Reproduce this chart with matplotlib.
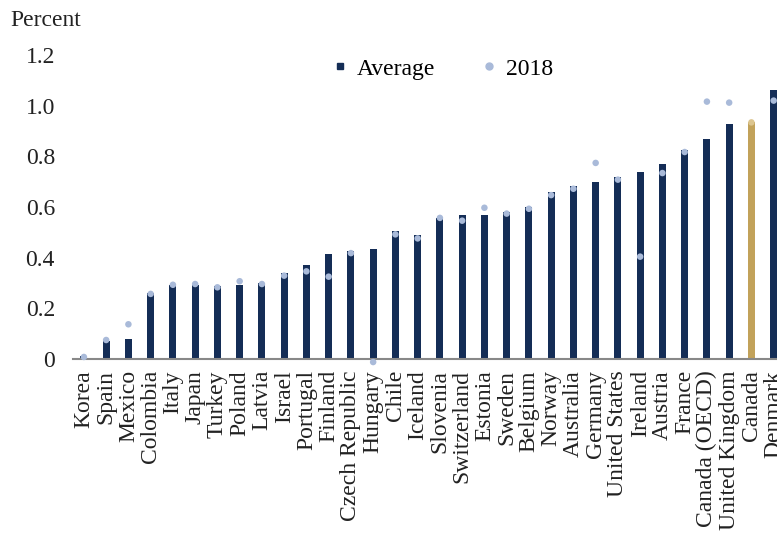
import matplotlib.pyplot as plt
from matplotlib.lines import Line2D

countries = ["Korea", "Spain", "Mexico", "Colombia", "Italy", "Japan", "Turkey",
             "Poland", "Latvia", "Israel", "Portugal", "Finland", "Czech Republic",
             "Hungary", "Chile", "Iceland", "Slovenia", "Switzerland", "Estonia",
             "Sweden", "Belgium", "Norway", "Australia", "Germany", "United States",
             "Ireland", "Austria", "France", "Canada (OECD)", "United Kingdom",
             "Canada", "Denmark"]
average = [0.01, 0.072, 0.078, 0.259, 0.292, 0.292, 0.29, 0.292, 0.301, 0.338,
           0.37, 0.416, 0.425, 0.436, 0.505, 0.488, 0.558, 0.567, 0.567, 0.58,
           0.601, 0.658, 0.682, 0.70, 0.718, 0.737, 0.77, 0.825, 0.867, 0.927,
           0.934, 1.061]
y2018 = [0.008, 0.075, 0.137, 0.257, 0.293, 0.296, 0.283, 0.307, 0.296, 0.329,
         0.346, 0.325, 0.418, -0.012, 0.492, 0.476, 0.557, 0.546, 0.597, 0.574,
         0.593, 0.647, 0.672, 0.774, 0.708, 0.404, 0.734, 0.817, 1.016, 1.012,
         0.934, 1.020]

navy = "#142d56"
dot = "#a9bad9"
gold = "#c2a25a"
gold_dot = "#dcc58f"

plt.rcParams["font.family"] = ["Liberation Serif", "DejaVu Serif"]

fig = plt.figure(figsize=(7.77, 5.33), dpi=100)
ax = fig.add_axes([73 / 777, (533 - 359) / 533, 1 - 73 / 777, 304 / 533])

x = list(range(len(countries)))
bar_colors = [gold if c == "Canada" else navy for c in countries]
dot_colors = [gold_dot if c == "Canada" else dot for c in countries]

ax.bar(x, average, width=0.32, color=bar_colors, zorder=2)
ax.scatter(x, y2018, s=22, color=dot_colors, zorder=3, clip_on=False, linewidths=0)

ax.set_xlim(-0.49, 31.15)
ax.set_ylim(0, 1.2)
ax.set_yticks([0, 0.2, 0.4, 0.6, 0.8, 1.0, 1.2])
ax.set_yticklabels(["0", "0.2", "0.4", "0.6", "0.8", "1.0", "1.2"])
ax.set_xticks(x)
ax.set_xticklabels(countries, rotation=90)
ax.tick_params(axis="both", length=0, labelsize=17, colors="#222222")
ax.tick_params(axis="y", pad=13)
ax.tick_params(axis="x", pad=8)

for s in ["top", "right", "left"]:
    ax.spines[s].set_visible(False)
ax.spines["bottom"].set_color("#888888")
ax.spines["bottom"].set_linewidth(1.5)

fig.text(10 / 777, 1 - 20 / 533, "Percent", fontsize=17, color="#222222", va="center")

handles = [Line2D([], [], marker="s", linestyle="none", color=navy, markersize=5),
           Line2D([], [], marker="o", linestyle="none", color=dot, markersize=5)]
fig.legend(handles, ["Average", "2018"], loc="center", ncol=2,
           bbox_to_anchor=(443 / 777, 1 - 69 / 533), frameon=False,
           fontsize=17, handlelength=0.6, handletextpad=0.4, columnspacing=2.0)

fig.savefig("out.png", dpi=100)
